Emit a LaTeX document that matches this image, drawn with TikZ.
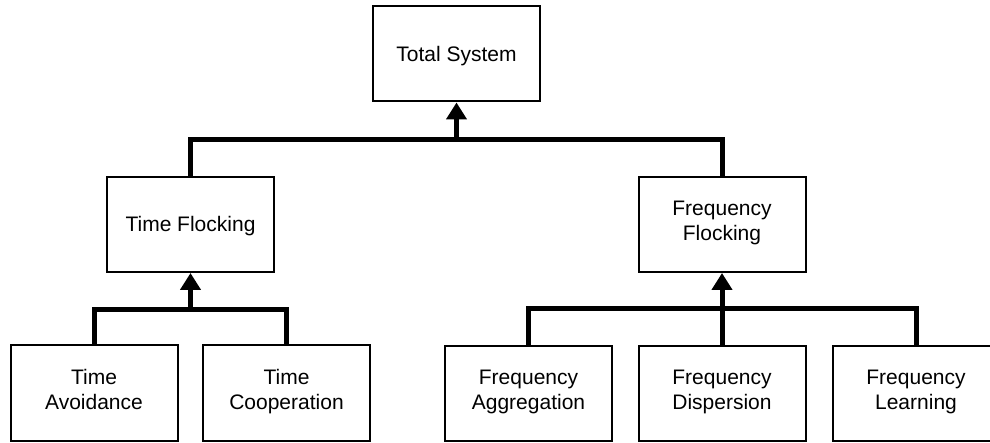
\documentclass[tikz,border=0pt]{standalone}
\usepackage{fontspec}
\setmainfont{Liberation Sans}
\usetikzlibrary{arrows.meta}
\tikzset{
  box/.style={draw=black, line width=2pt, fill=white, minimum width=167pt, minimum height=95pt, inner sep=0pt, align=center, font=\fontsize{21}{25}\selectfont, execute at begin node={\rule{0pt}{22.5pt}}, execute at end node={\rule[-7.5pt]{0pt}{7.5pt}}},
  conn/.style={draw=black, line width=5pt, line join=miter},
  arr/.style={conn, -{Triangle[width=20pt,length=17pt]}}
}
\begin{document}
\begin{tikzpicture}[x=1pt,y=-1pt]
\useasboundingbox (0,0) rectangle (990,443);
\clip (0,0) rectangle (990,443);
\fill[white] (0,0) rectangle (990,443);
\node[box] (ts) at (456.5,54) {Total System};
\node[box] (tf) at (190.5,224.5) {Time Flocking};
\node[box] (ff) at (722,224.5) {Frequency\\Flocking};
\node[box] (ta) at (94,393) {Time\\Avoidance};
\node[box] (tc) at (286.5,393) {Time\\Cooperation};
\node[box] (fa) at (528.5,393.5) {Frequency\\Aggregation};
\node[box] (fd) at (722,393.5) {Frequency\\Dispersion};
\node[box] (fl) at (916,393.5) {Frequency\\Learning};
\coordinate (j1) at (456.5,140);
\coordinate (j2) at (190.5,310);
\coordinate (j3) at (722,309);
\draw[conn] (tf.north) |- (j1) -| (ff.north);
\draw[arr] (j1) -- (ts.south);
\draw[conn] (ta.north) |- (j2) -| (tc.north);
\draw[arr] (j2) -- (tf.south);
\draw[conn] (fa.north) |- (j3) -| (fl.north);
\draw[arr] (fd.north) -- (ff.south);
\end{tikzpicture}
\end{document}
